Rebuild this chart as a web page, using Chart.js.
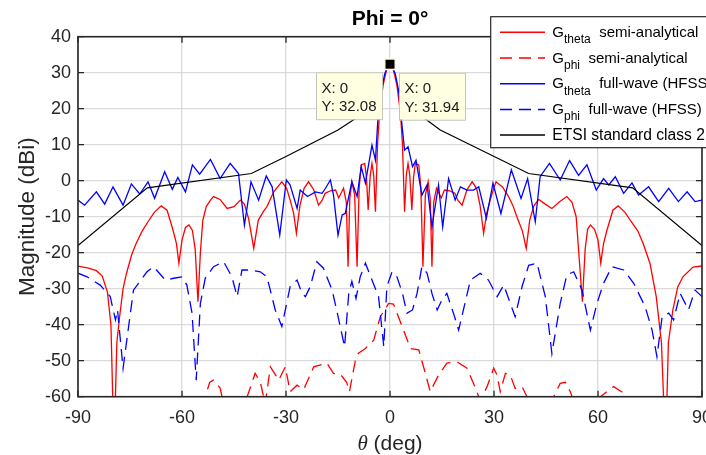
<!DOCTYPE html>
<html>
<head>
<meta charset="utf-8">
<script src="https://cdn.jsdelivr.net/npm/chart.js@4.4.1/dist/chart.umd.min.js"></script>
<style>
  html, body { margin: 0; padding: 0; background: #fff; }
</style>
</head>
<body>
<canvas id="chart" width="706" height="455"></canvas>
<script>
// G_theta semi-analytical (red solid)
const thetaSaAngles = [-90,-87,-84.7,-83,-81.5,-80.5,-79.6,-78.8,-78,-77,-76,-74.5,-73.2,-71.5,-69.8,-68,-66,-64.3,-62.6,-61.6,-60.9,-60,-59,-58,-57,-56.2,-55.4,-54.7,-54,-53,-51.8,-50.9,-49,-47,-45,-43.2,-42,-40.8,-39.3,-38,-36.5,-35.5,-33.5,-31.2,-29.8,-28.8,-27.8,-27,-26,-24.8,-23.5,-22,-20.6,-19.6,-18.7,-17.2,-15.7,-14.8,-13.4,-12.6,-12.1,-11.6,-11,-10.2,-9.5,-8.9,-8.3,-7.3,-6.8,-6.3,-5.7,-5.2,-4.7,-4.2,-3.6,-3,-2,-1,0,
  1,2,3,3.6,4.2,4.7,5.2,5.7,6.3,6.8,7.3,8.3,8.9,9.5,10.2,11,11.6,12.1,12.6,13.4,14.8,15.7,17.2,18.7,19.6,20.8,22.2,23.7,25,26,27,27.9,28.9,29.9,30.6,32.5,34.2,35.5,36.6,38.2,39.3,40.3,41.5,42.9,44.8,46.7,49,51,52.5,53.7,54.4,55.5,56.3,57,57.8,59,60,60.8,61.6,62.6,64.3,65.8,67.8,69.6,71.5,73,75,76.8,78.3,79.5,80.3,81.6,83,84.5,87.4,90];
const thetaSaGain = [-23.7,-24.3,-25,-26.5,-31,-40,-75,-45,-37.8,-30,-25.7,-20.5,-17.4,-14,-11.4,-8.8,-7,-8.2,-13.7,-17.5,-22.9,-16.5,-13,-12.3,-13.8,-19,-33.6,-20,-11,-7.2,-5.4,-4.4,-5.2,-7.7,-7.2,-5.4,-6.5,-10.5,-18.8,-11,-8.5,-7.2,-3,-0.3,-2.2,-5.4,-9,-14.6,-7,-2.2,-0.3,-2.5,-6.8,-5.5,-3.5,-2.8,-2.6,-4.8,-2.1,-6,-23.9,-5,-0.3,-4,-23.9,-2,4.4,4.8,1,-8.1,1.5,4.8,1.5,-8.6,10,19,26.5,30.8,32.08,
  30.8,26.5,19,10,-8.6,1.5,4.8,1.5,-8.1,1,4.8,4.4,-2,-23.9,-4,-0.3,-5,-23.9,-6,-2.1,-4.8,-2.6,-2.8,-3.5,-5.5,-6.8,-2.5,-0.3,-2.2,-7,-14.6,-9,-5.4,-2.2,-0.3,-1.8,-4.4,-7,-10,-14,-18.8,-11,-7,-5.2,-6.5,-7.7,-5.8,-4.4,-6,-10,-19.3,-33.6,-19,-13.5,-12.3,-13.5,-16.5,-22.9,-17.5,-13.7,-8.2,-7,-8.8,-11.4,-14,-17.4,-23,-32.2,-45,-75,-45,-35.9,-29.5,-26.7,-24,-23.7];

// G_phi semi-analytical (red dashed)
const phiSaAngles = [-56,-54.2,-53.3,-52,-50.9,-49,-48,-46,-43,-41.2,-38.9,-37.4,-36,-34.5,-33,-32.1,-30.2,-28.8,-26.8,-24.9,-22,-18.2,-16.3,-14.3,-12.5,-11.7,-10,-9.1,-7.1,-4.7,-2.8,-0.4,1,3.5,5.9,8.3,10.2,11.6,14,16.4,19.3,22.2,24.1,26,28,29.9,30.9,31.8,33.3,34.7,36.1,38.1,39.5,42,45,47.2,49.1,50.6,52,54,57,60.7,64.5,67.4,69,72];
const phiSaGain = [-68,-62,-60,-56,-55.4,-57.6,-62,-68,-66,-60,-53.5,-56,-62,-51.7,-54,-55.4,-51.7,-58.6,-56.8,-58,-51.7,-50.7,-53.5,-53.8,-56,-58.6,-50,-47.9,-46.6,-44.3,-37.8,-34.1,-34.3,-40.5,-46.6,-47,-53.5,-58.6,-54,-50.7,-50.3,-52.1,-56.3,-61,-57.2,-52.1,-54,-58.6,-53.5,-54,-57.7,-57.2,-60,-66,-66,-60,-56.3,-56,-58.6,-64,-66,-60,-57.2,-59,-63,-68];

// G_theta full-wave HFSS (blue solid)
const thetaFwAngles = [-90,-88.1,-84.7,-82.3,-79.9,-77,-74.6,-72.2,-69.8,-67.9,-65,-62.8,-61.2,-59,-57,-54.9,-51.8,-49,-46.1,-43.7,-42,-40.1,-37.9,-35.7,-34,-31.8,-29.9,-28.8,-26.8,-25.9,-23.8,-21.5,-19.6,-18.6,-17.2,-16.3,-15,-13.8,-12.9,-11,-9.5,-8.3,-7.1,-5.2,-4.2,-3.5,-2.5,-1.5,-0.5,0,
  0.5,1.5,2.5,3.3,4.2,5.2,6.5,7.5,9.2,10.7,12.1,14,15.2,16.9,18.8,20.3,22.2,24.1,25.6,27.8,29.7,32,35,37.8,39.7,41.9,43.3,46,49.1,51.8,54.4,56.8,59.5,61.6,63.1,65,67.4,69.8,71.7,74.6,77.5,80.4,83.2,85.7,88,90];
const thetaFwGain = [-5.4,-6.8,-3.1,-6.5,-1.7,-6.8,-0.9,-3.7,-0.3,-4.9,2.5,-2.4,0.9,-3.1,4.4,1.8,5.9,0.6,4.8,2,-12.3,-0.3,-5.4,1.3,-1.7,-15.1,0.2,-1.2,-7.7,-2.6,-4.4,-3.1,-3.5,-2.1,0.2,-4,-15.1,-9.5,-9.1,-0.3,-4.4,3.9,-0.7,9.9,5.7,16.9,25,29.8,31.7,31.94,
  31.7,29.8,25,16.9,8.5,9.4,3.9,5.7,-4,-1.2,-12.8,-1.2,-12.8,0.6,-5.4,-1.7,-2.6,-2.6,-1.7,-10.4,-0.7,-9.1,3,-4.9,0.6,-11.4,1.1,4.8,0.2,5.6,1.5,4.4,-2.6,0.6,-1.2,1.1,-3.5,-0.6,-4,-1.7,-5.8,-2.1,-5.8,-3.1,-5.8,-5.4];

// G_phi full-wave HFSS (blue dashed)
const phiFwAngles = [-90,-87.4,-83.6,-80.7,-79.2,-78.6,-77,-75.4,-74,-70.1,-68.2,-64.8,-62.4,-60,-58.6,-57.1,-55.9,-54.7,-53.3,-50.9,-48,-45.6,-44.1,-42.7,-40.3,-37.4,-35.5,-33.1,-31.2,-28.8,-26.8,-25.4,-24.4,-23,-21.1,-19.2,-16.7,-15.3,-13.1,-11.9,-11,-9.8,-8.6,-7.1,-5.2,-3.3,-1.8,-0.9,0.6,2,3.6,4.9,6.5,7.8,9.2,10.7,12.1,13.6,15,16.4,18.3,19.8,23.2,26,28.4,30.9,32.8,36.1,38.1,40,42.4,44.8,46.7,49.1,51,53,55.4,57.8,59.7,61.6,64,67.4,70.3,73.6,75.6,77,78.5,80.4,81.8,83.7,86.1,88,90];
const phiFwGain = [-25.7,-26.7,-29,-32.2,-38.7,-35.9,-52.1,-40.5,-30.4,-25.3,-23.9,-27.6,-27.1,-26.7,-29,-36.8,-55.4,-34.1,-27.1,-23.9,-22.5,-26.7,-32.2,-24.8,-24.8,-25.3,-26.7,-35.9,-40.5,-29.4,-27.6,-31.3,-32.2,-29.4,-22.5,-24.3,-30.4,-36.3,-46.1,-31.3,-28,-32.7,-26.7,-22.9,-27.6,-32.2,-46.1,-29.4,-25.3,-26.7,-31.3,-36.8,-35.9,-31.3,-23.9,-25.7,-31.3,-35.9,-33.1,-31.3,-36.8,-41.5,-27.6,-25.7,-27.6,-32.2,-29,-37.8,-29.4,-23.5,-22.9,-32.2,-48,-34.1,-26.2,-25.3,-30.4,-41.5,-34.1,-28.5,-23.9,-24.8,-28.5,-35,-41.5,-48.9,-37.8,-36.8,-38.7,-31.3,-35.9,-30.4,-32.2];

// ETSI standard class 2 mask (black), gap around boresight
const etsiAngles = [-90,-70,-40,-30,-15,-10.5,-6,0,6,10.5,14.5,40,70,90];
const etsiGain = [-18,-2,2,6.7,14.1,16.9,20,null,20,16.9,14.1,2,-2,-18];

// data tips
const tipAngles = [0, 0];
const tipGains = [32.08, 31.94];

const xTickValues = [-90, -60, -30, 0, 30, 60, 90];
const yTickValues = [-60, -50, -40, -30, -20, -10, 0, 10, 20, 30, 40];

const legendMain = ['G', 'G', 'G', 'G', 'ETSI standard class 2'];
const legendSub = ['theta', 'phi', 'theta', 'phi', ''];
const legendRest = ['semi-analytical', 'semi-analytical', 'full-wave (HFSS)', 'full-wave (HFSS)', ''];
const legendColors = ['#ff0000', '#ff0000', '#0000ff', '#0000ff', '#000000'];
const legendDashed = [false, true, false, true, false];

function pts(xs, ys) {
  return xs.map((x, i) => ({ x: x, y: ys[i] }));
}

const SANS = '"Liberation Sans", Arial, sans-serif';
const AXIS = '#262626';

const decor = {
  id: 'decor',
  afterDraw(chart) {
    const ctx = chart.ctx;
    const a = chart.chartArea;
    const xs = chart.scales.x, ys = chart.scales.y;
    ctx.save();

    // inward ticks on all four sides
    ctx.strokeStyle = AXIS;
    ctx.lineWidth = 1.3;
    ctx.beginPath();
    xTickValues.forEach(v => {
      const p = xs.getPixelForValue(v);
      ctx.moveTo(p, a.bottom); ctx.lineTo(p, a.bottom - 6);
      ctx.moveTo(p, a.top); ctx.lineTo(p, a.top + 6);
    });
    yTickValues.forEach(v => {
      const p = ys.getPixelForValue(v);
      ctx.moveTo(a.left, p); ctx.lineTo(a.left + 6, p);
      ctx.moveTo(a.right, p); ctx.lineTo(a.right - 6, p);
    });
    ctx.stroke();
    ctx.lineWidth = 1.6;
    ctx.strokeRect(a.left, a.top, a.right - a.left, a.bottom - a.top);

    // data tips
    ctx.font = '15px ' + SANS;
    ctx.textAlign = 'left';
    ctx.textBaseline = 'alphabetic';
    tipAngles.forEach((ang, i) => {
      const px = xs.getPixelForValue(ang);
      const py = ys.getPixelForValue(tipGains[i]);
      const w = 66, h = 47;
      const bx = i === 0 ? px - 8 - w : px + 9;
      const by = py + 7;
      ctx.fillStyle = '#ffffe1';
      ctx.fillRect(bx, by, w, h);
      ctx.strokeStyle = '#c4c4b8';
      ctx.lineWidth = 1;
      ctx.strokeRect(bx + 0.5, by + 0.5, w, h);
      ctx.fillStyle = '#1a1a1a';
      ctx.fillText('X: ' + ang, bx + 5.5, by + 20.5);
      ctx.fillText('Y: ' + tipGains[i].toFixed(2), bx + 5.5, by + 39);
    });
    const mx = xs.getPixelForValue(tipAngles[0]);
    const my = ys.getPixelForValue(tipGains[0]) - 1;
    ctx.fillStyle = '#ffffe1';
    ctx.fillRect(mx - 6, my - 6, 12, 12);
    ctx.fillStyle = '#000';
    ctx.fillRect(mx - 4.5, my - 4.5, 9, 9);

    // legend
    const lx = 490.7, ly = 16.7, lw = 240, lh = 131;
    ctx.fillStyle = '#fff';
    ctx.fillRect(lx, ly, lw, lh);
    ctx.strokeStyle = AXIS;
    ctx.lineWidth = 1.2;
    ctx.strokeRect(lx, ly, lw, lh);
    legendMain.forEach((txt, i) => {
      const cy = 32.3 + i * 25.7;
      ctx.strokeStyle = legendColors[i];
      ctx.lineWidth = 1.5;
      ctx.setLineDash(legendDashed[i] ? [12, 7] : []);
      ctx.beginPath();
      ctx.moveTo(500, cy); ctx.lineTo(545, cy);
      ctx.stroke();
      ctx.setLineDash([]);
      ctx.fillStyle = '#000';
      ctx.font = '15px ' + SANS;
      let x = 552.3;
      if (!legendSub[i]) {
        ctx.font = '15.6px ' + SANS;
      }
      ctx.fillText(txt, x, cy + 4.5);
      x += ctx.measureText(txt).width;
      if (legendSub[i]) {
        ctx.font = '12px ' + SANS;
        ctx.fillText(legendSub[i], x, cy + 11);
        x += ctx.measureText(legendSub[i]).width + 8.5;
        ctx.font = '15px ' + SANS;
        ctx.fillText(legendRest[i], x, cy + 4.5);
      }
    });

    // title
    ctx.fillStyle = '#000';
    ctx.font = 'bold 21px ' + SANS;
    ctx.textAlign = 'center';
    ctx.fillText('Phi = 0\u00b0', (a.left + a.right) / 2, 25);

    // x axis title with italic theta
    ctx.fillStyle = AXIS;
    ctx.font = 'italic 21px "Liberation Serif", serif';
    const wTheta = ctx.measureText('\u03b8').width;
    ctx.font = '21px ' + SANS;
    const rest = ' (deg)';
    const wRest = ctx.measureText(rest).width;
    let sx = (a.left + a.right) / 2 - (wTheta + wRest) / 2;
    ctx.textAlign = 'left';
    ctx.font = 'italic 21px "Liberation Serif", serif';
    ctx.fillText('\u03b8', sx, 450);
    ctx.font = '21px ' + SANS;
    ctx.fillText(rest, sx + wTheta, 450);

    // y axis title
    ctx.font = '22.5px ' + SANS;
    ctx.translate(34, (a.top + a.bottom) / 2);
    ctx.rotate(-Math.PI / 2);
    ctx.textAlign = 'center';
    ctx.fillText('Magnitude (dBi)', 0, 0);
    ctx.restore();
  }
};

const ctx = document.getElementById('chart').getContext('2d');
new Chart(ctx, {
  type: 'line',
  data: {
    datasets: [
      { data: pts(thetaSaAngles, thetaSaGain), borderColor: '#ff0000', borderWidth: 1.3, order: 5 },
      { data: pts(phiSaAngles, phiSaGain), borderColor: '#ff0000', borderWidth: 1.3, borderDash: [12, 7], order: 4 },
      { data: pts(thetaFwAngles, thetaFwGain), borderColor: '#0000ff', borderWidth: 1.3, order: 3 },
      { data: pts(phiFwAngles, phiFwGain), borderColor: '#0000ff', borderWidth: 1.3, borderDash: [12, 7], order: 2 },
      { data: pts(etsiAngles, etsiGain), borderColor: '#000000', borderWidth: 1.2, order: 1, spanGaps: false }
    ]
  },
  options: {
    responsive: false,
    animation: false,
    events: [],
    elements: { point: { radius: 0 }, line: { tension: 0, fill: false } },
    layout: { padding: { top: 36.7, right: 4, left: 0, bottom: 0 } },
    plugins: { legend: { display: false }, tooltip: { enabled: false }, title: { display: false } },
    scales: {
      x: {
        type: 'linear', min: -90, max: 90,
        afterBuildTicks(s) { s.ticks = xTickValues.map(v => ({ value: v })); },
        afterFit(s) { s.height = 58.3; s.paddingLeft = 0; s.paddingRight = 0; },
        grid: { color: '#dadada', lineWidth: 1.3, drawTicks: false },
        border: { display: false },
        ticks: { color: AXIS, font: { family: SANS, size: 18 }, padding: 11, maxRotation: 0, autoSkip: false }
      },
      y: {
        type: 'linear', min: -60, max: 40,
        afterBuildTicks(s) { s.ticks = yTickValues.map(v => ({ value: v })); },
        afterFit(s) { s.width = 78; s.paddingTop = 0; s.paddingBottom = 0; },
        grid: { color: '#dadada', lineWidth: 1.3, drawTicks: false },
        border: { display: false },
        ticks: { color: AXIS, font: { family: SANS, size: 18 }, padding: 7, autoSkip: false }
      }
    }
  },
  plugins: [decor]
});
</script>
</body>
</html>
